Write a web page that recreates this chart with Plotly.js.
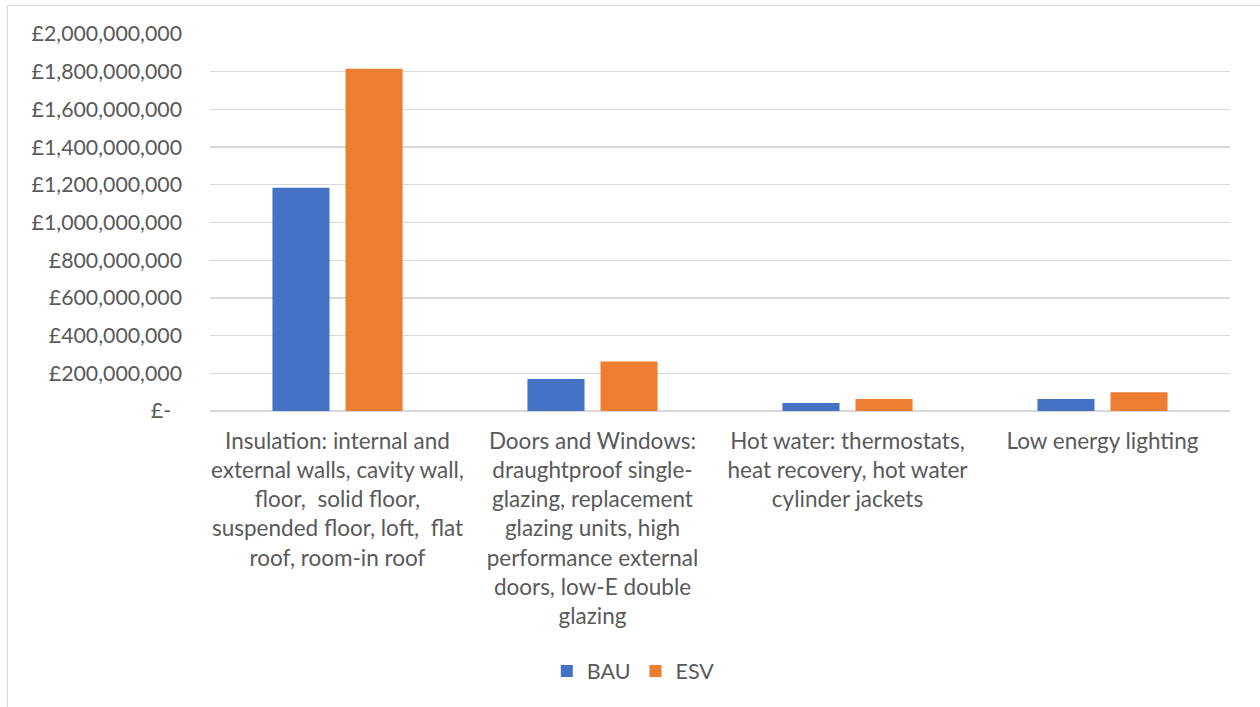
<!DOCTYPE html>
<html>
<head>
<meta charset="utf-8">
<script src="https://cdn.plot.ly/plotly-3.0.1.min.js"></script>
<style>
html,body{margin:0;padding:0;background:#fff;overflow:hidden;}
#frame{position:absolute;left:7px;top:5px;width:1270px;height:720px;border:1px solid #d9d9d9;box-sizing:border-box;}
#chart{position:absolute;left:0;top:0;width:1260px;height:707px;}
</style>
</head>
<body>
<div id="frame"></div>
<div id="chart"></div>
<script>
var categories = [
  "Insulation: internal and<br>external walls, cavity wall,<br>floor,  solid floor,<br>suspended floor, loft,  flat<br>roof, room-in roof",
  "Doors and Windows:<br>draughtproof single-<br>glazing, replacement<br>glazing units, high<br>performance external<br>doors, low-E double<br>glazing",
  "Hot water: thermostats,<br>heat recovery, hot water<br>cylinder jackets",
  "Low energy lighting"
];
var bauValues = [1185000000, 170000000, 42000000, 64000000];
var esvValues = [1816000000, 262000000, 64000000, 99000000];
var tickValues = [0, 200000000, 400000000, 600000000, 800000000, 1000000000, 1200000000, 1400000000, 1600000000, 1800000000, 2000000000];
var tickLabels = ["£-\u00a0\u00a0", "£200,000,000", "£400,000,000", "£600,000,000", "£800,000,000", "£1,000,000,000", "£1,200,000,000", "£1,400,000,000", "£1,600,000,000", "£1,800,000,000", "£2,000,000,000"];

var family = "Lato, 'Open Sans', sans-serif";
var yFont = {family: family, size: 21.3, color: "#595959"};
var xFont = {family: family, size: 22.5, color: "#595959"};
var legendFont = {family: family, size: 21.5, color: "#595959"};

var data = [
  {type: "bar", name: "BAU", x: categories, y: bauValues, marker: {color: "#4472C4"}, hoverinfo: "none"},
  {type: "bar", name: "ESV", x: categories, y: esvValues, marker: {color: "#ED7D31"}, hoverinfo: "none"}
];

var layout = {
  width: 1260, height: 707,
  paper_bgcolor: "rgba(0,0,0,0)", plot_bgcolor: "rgba(0,0,0,0)",
  margin: {l: 210, r: 30, t: 34, b: 296},
  font: xFont,
  barmode: "group",
  bargap: 0.427,
  bargroupgap: 0.219,
  showlegend: true,
  legend: {orientation: "h", x: 0.415, xanchor: "center", y: -0.69, yanchor: "middle", font: legendFont, itemwidth: 30},
  xaxis: {type: "category", showgrid: false, zeroline: false, showline: false, ticks: "", tickfont: xFont, tickangle: 0, ticklabelstandoff: 14},
  yaxis: {range: [0, 2000000000], tickvals: tickValues, ticktext: tickLabels, showgrid: true, gridcolor: "#D9D9D9", gridwidth: 1.3, zeroline: true, zerolinecolor: "#D9D9D9", zerolinewidth: 1.3, showline: false, ticks: "", tickfont: yFont, ticklabelstandoff: 27}
};

Plotly.newPlot("chart", data, layout, {displayModeBar: false, staticPlot: true});
</script>
</body>
</html>
